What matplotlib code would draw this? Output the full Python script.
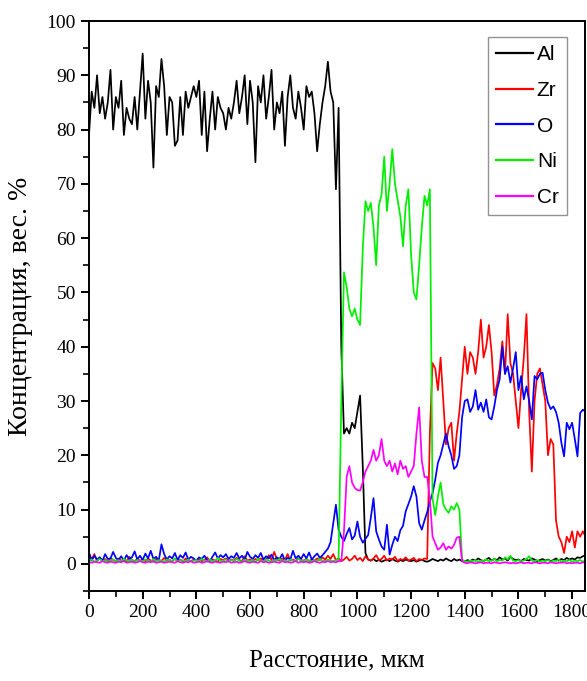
import matplotlib
matplotlib.use("Agg")
import matplotlib.pyplot as plt
from matplotlib.ticker import MultipleLocator

# distance along the scan, um (10 um step)
dist = list(range(0, 1851, 10))

al = [79, 87, 84, 90, 83, 86, 82, 85, 91, 80,
      86, 84, 89, 79, 84, 82, 81, 86, 80, 87,
      94, 82, 89, 85, 73, 88, 86, 93, 88, 79,
      86, 85, 77, 78, 86, 79, 87, 84, 86, 88,
      86, 89, 79, 87, 76, 82, 87, 80, 86, 84,
      83, 80, 84, 82, 85, 89, 83, 86, 90, 81,
      89, 85, 74, 88, 85, 90, 82, 86, 91, 80,
      85, 83, 87, 77, 86, 90, 84, 82, 87, 84,
      80, 88, 86, 87, 83, 76, 81, 85, 88, 92.5,
      87, 85, 69, 84, 40, 24, 25, 24, 26, 25,
      28, 31, 18, 2, 0.8, 0.6, 0.9, 0.5, 0.7, 0.4,
      0.6, 0.8, 0.5, 0.9, 0.6, 0.4, 0.7, 0.5, 0.8, 0.6,
      0.5, 0.7, 0.4, 0.6, 0.8, 0.5, 0.4, 0.6, 0.9, 0.7,
      0.5, 0.8, 0.6, 1.0, 0.7, 0.5, 0.9, 0.6, 0.8, 0.5,
      0.4, 0.7, 0.5, 0.8, 0.6, 1.0, 0.7, 0.5, 0.8, 1.1,
      0.6, 0.9, 0.7, 1.2, 0.8, 1.0, 0.6, 1.3, 0.9, 0.7,
      0.8, 0.5, 0.9, 0.7, 0.6, 1.0, 0.8, 0.5, 0.7, 0.9,
      0.6, 0.8, 0.5, 0.7, 1.0, 0.6, 0.9, 0.7, 1.1, 0.8,
      1.0, 0.8, 1.2, 1.1, 1.4, 1.6]

zr = [2.0, 0.8, 1.8, 0.5, 1.2, 0.6, 0.9, 0.4, 1.1, 0.7,
      0.5, 1.0, 0.6, 0.8, 0.4, 1.3, 0.7, 0.5, 0.9, 0.6,
      0.8, 0.5, 1.0, 0.6, 0.4, 0.9, 0.7, 0.5, 1.1, 0.6,
      0.7, 0.5, 0.9, 0.6, 0.8, 0.4, 1.0, 0.6, 0.5, 0.8,
      0.6, 0.9, 0.5, 0.7, 1.2, 0.5, 0.8, 0.6, 0.4, 0.9,
      0.7, 1.0, 0.5, 0.8, 0.6, 1.1, 0.7, 0.5, 1.4, 0.6,
      0.8, 0.5, 0.9, 0.7, 1.0, 0.6, 0.8, 1.6, 0.7, 2.2,
      0.9, 0.6, 1.0, 0.7, 1.8, 0.6, 0.8, 0.5, 1.0, 0.7,
      0.6, 0.9, 0.5, 0.8, 0.6, 1.0, 0.7, 1.2, 0.8, 1.5,
      0.9, 1.8, 0.7, 1.0, 0.5, 0.8, 1.3, 0.6, 0.9, 1.5,
      0.7, 1.1, 0.5, 1.4, 0.8, 0.6, 1.0, 1.6, 0.7, 0.9,
      1.5, 0.6, 1.0, 0.8, 1.3, 0.5, 0.9, 0.7, 1.2, 0.6,
      0.8, 1.1, 0.5, 0.9, 0.7, 1.0, 0.9, 24, 37, 36,
      32, 38, 30, 22, 25, 26, 19, 24, 28, 34,
      40, 35, 39, 38, 35, 39, 45, 38, 40, 44,
      39, 31, 33, 36, 41, 35, 46, 37, 35, 30,
      25, 32, 38, 46, 28, 17, 30, 35, 36, 33,
      30, 20, 23, 22, 8, 5, 4, 2, 5, 4,
      6, 3, 6, 5, 6, 5]

ox = [2.0, 0.6, 1.5, 0.8, 1.2, 0.5, 1.8, 0.9, 1.0, 2.2,
      1.1, 0.7, 1.4, 0.6, 1.6, 0.9, 1.2, 2.3, 0.8, 1.5,
      0.7, 1.9, 1.0, 2.4, 0.9, 1.3, 0.6, 3.6, 1.8, 0.8,
      1.4, 1.0, 2.0, 0.7, 1.6, 1.1, 2.1, 0.8, 1.3, 1.0,
      0.6, 1.2, 0.9, 1.5, 0.7, 0.5, 1.3, 2.1, 1.0, 1.6,
      1.2, 1.8, 0.9, 1.4, 1.1, 2.0, 1.0, 1.5, 0.8, 2.2,
      1.3, 0.9, 1.6, 1.1, 2.0, 0.8, 1.4, 1.0, 1.7, 0.7,
      1.2, 0.9, 1.8, 0.6, 1.1, 0.8, 2.4, 1.0, 1.5, 0.9,
      1.8, 1.0, 2.1, 0.8, 1.4, 1.9, 1.1, 1.6, 2.2, 2.8,
      4.0, 7.5, 10.9, 6.3, 5.0, 4.2, 5.5, 6.6, 4.5, 5.2,
      7.8, 5.0, 3.9, 4.6, 5.3, 8.5, 12.1, 6.0, 4.5, 3.2,
      2.6, 7.2, 1.7, 3.5, 5.0, 4.2, 6.2, 7.0, 9.7, 11.0,
      12.4, 14.3, 12.4, 7.5, 6.3, 8.0, 9.5, 11.5, 13.0, 15.5,
      18.6, 20.0, 22.0, 24.0, 21.6, 20.0, 17.5, 18.0, 20.0, 27.0,
      30.0, 30.3, 28.0, 29.0, 32.0, 28.4, 29.7, 28.0, 30.3, 27.0,
      26.6, 29.0, 32.0, 34.0, 40.0, 35.0, 36.4, 33.4, 36.0, 39.0,
      32.0, 34.6, 30.3, 32.7, 30.0, 26.6, 34.6, 34.0, 35.0, 35.2,
      32.0, 29.7, 28.5, 29.0, 28.0, 26.0, 22.3, 19.8, 26.0, 24.8,
      26.0, 23.0, 19.8, 27.8, 28.4, 28.0]

ni = [0.5, 0.8, 0.4, 0.6, 0.9, 0.5, 0.7, 0.4, 0.6, 0.8,
      0.5, 0.7, 0.4, 0.9, 0.6, 0.5, 0.8, 0.4, 0.7, 0.6,
      0.5, 0.8, 0.6, 0.4, 0.9, 0.5, 0.7, 0.6, 0.4, 0.8,
      0.6, 0.5, 1.0, 0.4, 0.7, 0.6, 0.5, 0.8, 0.4, 0.6,
      0.7, 0.5, 0.9, 0.6, 0.4, 0.8, 0.5, 0.6, 1.1, 0.5,
      0.6, 0.8, 0.4, 0.7, 0.5, 0.9, 0.6, 0.4, 0.8, 0.6,
      0.5, 0.7, 0.4, 0.9, 0.6, 0.5, 0.8, 0.6, 0.4, 0.7,
      0.6, 0.9, 0.5, 0.7, 0.4, 0.8, 0.6, 0.5, 0.9, 0.6,
      0.5, 0.8, 0.6, 0.4, 0.7, 0.5, 0.9, 0.6, 0.5, 0.8,
      0.6, 0.5, 0.7, 0.8, 30, 53.7, 51, 47, 45.6, 47,
      45, 44, 58, 66.8, 65, 66.5, 62, 55, 66, 68,
      75, 65, 70, 76.4, 70, 67, 64, 58.5, 66, 69,
      57, 50, 48.7, 55, 62, 67.8, 66, 69, 12, 9,
      12.4, 15, 11, 10, 9.4, 10.6, 10, 11.2, 10, 0.8,
      0.5, 0.4, 0.6, 0.5, 0.7, 0.4, 0.6, 0.5, 0.8, 0.5,
      0.6, 0.9, 0.5, 0.7, 0.6, 1.2, 0.8, 1.5, 0.6, 0.5,
      0.7, 0.5, 0.6, 0.9, 1.4, 0.6, 0.5, 0.7, 0.4, 0.6,
      0.5, 0.7, 0.4, 0.6, 0.5, 0.8, 0.4, 0.6, 0.5, 0.7,
      0.4, 0.6, 0.5, 0.7, 0.4, 0.6]

cr = [0.3, 0.2, 0.4, 0.3, 0.2, 0.5, 0.3, 0.2, 0.4, 0.3,
      0.2, 0.4, 0.3, 0.5, 0.2, 0.3, 0.4, 0.2, 0.3, 0.5,
      0.3, 0.2, 0.4, 0.3, 0.5, 0.2, 0.3, 0.4, 0.2, 0.3,
      0.4, 0.3, 0.2, 0.5, 0.3, 0.2, 0.4, 0.3, 0.5, 0.2,
      0.3, 0.4, 0.2, 0.3, 0.5, 0.3, 0.2, 0.4, 0.3, 0.2,
      0.4, 0.3, 0.5, 0.2, 0.3, 0.4, 0.2, 0.3, 0.5, 0.3,
      0.2, 0.4, 0.3, 0.2, 0.5, 0.3, 0.4, 0.2, 0.3, 0.4,
      0.3, 0.2, 0.5, 0.3, 0.4, 0.2, 0.3, 0.5, 0.2, 0.4,
      0.3, 0.4, 0.2, 0.3, 0.5, 0.3, 0.2, 0.4, 0.3, 0.5,
      0.3, 0.4, 0.3, 0.5, 0.5, 6, 16, 18, 15, 14,
      13.6, 13.5, 15, 17, 18, 19, 21, 19, 20, 23,
      19, 18, 19, 17, 18.5, 16.5, 19, 17.5, 18, 16,
      17, 18, 24, 28.8, 19, 16, 16, 12, 5, 3.8,
      2.6, 3.0, 3.8, 2.6, 3.2, 2.8, 3.5, 4.8, 5.0, 0.5,
      0.2, 0.1, 0.3, 0.2, 0.1, 0.2, 0.3, 0.1, 0.2, 0.2,
      0.1, 0.3, 0.2, 0.1, 0.2, 0.3, 0.2, 0.1, 0.2, 0.1,
      0.2, 0.3, 0.1, 0.2, 0.2, 0.1, 0.3, 0.2, 0.1, 0.2,
      0.2, 0.1, 0.3, 0.2, 0.1, 0.2, 0.2, 0.3, 0.1, 0.2,
      0.1, 0.2, 0.2, 0.1, 0.3, 0.2]

series = [("Al", al, "black"), ("Zr", zr, "#ff0000"), ("O", ox, "#0000ff"),
          ("Ni", ni, "#00ee00"), ("Cr", cr, "#ff00ff")]

plt.rcParams["font.family"] = ["Liberation Serif", "DejaVu Serif"]

fig = plt.figure(figsize=(5.87, 6.81), dpi=100)
ax = fig.add_axes([89 / 587, 1 - 591 / 681, 496 / 587, 570 / 681])

for name, vals, col in series:
    ax.plot(dist, vals, color=col, lw=1.25, label=name)

ax.set_xlim(0, 1848)
ax.set_ylim(-5, 100)
ax.xaxis.set_major_locator(MultipleLocator(200))
ax.xaxis.set_minor_locator(MultipleLocator(100))
ax.yaxis.set_major_locator(MultipleLocator(10))
ax.yaxis.set_minor_locator(MultipleLocator(5))
ax.tick_params(which="major", direction="out", length=6, width=1.4, labelsize=14)
ax.tick_params(which="minor", direction="out", length=4, width=1.2)
for s in ax.spines.values():
    s.set_linewidth(1.4)

ax.set_xlabel("Расстояние, мкм", fontsize=18, labelpad=20)
ax.set_ylabel("Концентрация, вес. %", fontsize=20, labelpad=10)

leg = ax.legend(loc="upper right", bbox_to_anchor=(0.9637, 0.972), borderaxespad=0,
                fancybox=False, edgecolor="#777777", handlelength=1.75,
                handletextpad=0.2, labelspacing=0.8, borderpad=0.4,
                prop={"family": ["Liberation Sans Narrow", "Liberation Sans"], "size": 15})
leg.get_frame().set_linewidth(1.0)
for h in leg.get_lines():
    h.set_linewidth(1.6)

fig.savefig("out.png", dpi=100)
